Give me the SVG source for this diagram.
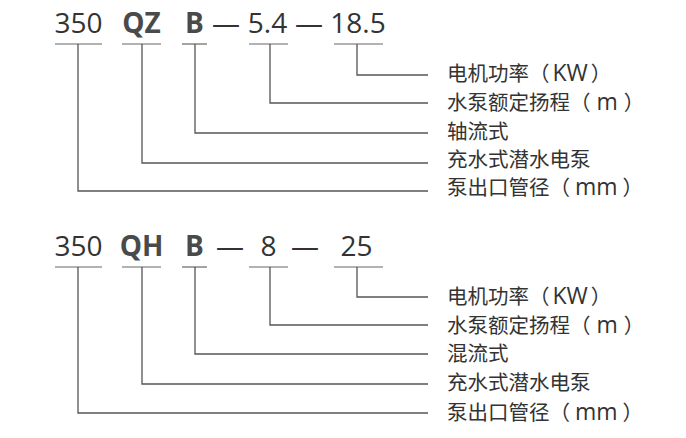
<svg xmlns="http://www.w3.org/2000/svg" width="686" height="438" viewBox="0 0 686 438">
<style>
.code{font-family:"Open Sans","Liberation Sans",sans-serif;font-size:28px;fill:#333;text-anchor:middle}
.bold{font-weight:bold;fill:#4a4a4a}
.lbl{font-family:"Noto Sans CJK SC",sans-serif;font-size:20.5px;fill:#333}
.lat{font-family:"Open Sans","Liberation Sans",sans-serif;font-size:23px}
.ul{stroke:#666;stroke-width:1.2;fill:none}
.cn{stroke:#555;stroke-width:1.3;fill:none}
</style>
<rect width="686" height="438" fill="#fff"/>
<g id="model1">
  <g id="m1-size"><text class="code" x="78.5" y="33">350</text><line class="ul" x1="55" y1="44" x2="102" y2="44"/></g>
  <g id="m1-type"><text class="code bold" x="141.5" y="33">QZ</text><line class="ul" x1="122" y1="44" x2="161" y2="44"/></g>
  <g id="m1-flow"><text class="code bold" x="194.5" y="33">B</text><line class="ul" x1="182" y1="44" x2="207" y2="44"/></g>
  <text class="code" x="226" y="33">—</text>
  <g id="m1-head"><text class="code" x="267.5" y="33">5.4</text><line class="ul" x1="249" y1="44" x2="288" y2="44"/></g>
  <text class="code" x="309" y="33">—</text>
  <g id="m1-power"><text class="code" x="358" y="33">18.5</text><line class="ul" x1="334" y1="44" x2="383" y2="44"/></g>
  <g id="m1-l1"><text class="lbl" x="447" y="81">电机功率（<tspan class="lat" dx="3">KW</tspan><tspan dx="3">）</tspan></text></g>
  <g id="m1-l2"><text class="lbl" x="447" y="110">水泵额定扬程（<tspan class="lat" dx="6">m</tspan><tspan dx="6">）</tspan></text></g>
  <g id="m1-l3"><text class="lbl" x="447" y="138.5">轴流式</text></g>
  <g id="m1-l4"><text class="lbl" x="447" y="166.5">充水式潜水电泵</text></g>
  <g id="m1-l5"><text class="lbl" x="447" y="195">泵出口管径（<tspan class="lat" dx="5">mm</tspan><tspan dx="5">）</tspan></text></g>
</g>
<g id="model2">
  <g id="m2-size"><text class="code" x="78.5" y="256">350</text><line class="ul" x1="55" y1="267" x2="102" y2="267"/></g>
  <g id="m2-type"><text class="code bold" x="141.5" y="256">QH</text><line class="ul" x1="122" y1="267" x2="161" y2="267"/></g>
  <g id="m2-flow"><text class="code bold" x="194.5" y="256">B</text><line class="ul" x1="182" y1="267" x2="207" y2="267"/></g>
  <text class="code" x="230" y="256">—</text>
  <g id="m2-head"><text class="code" x="268.5" y="256">8</text><line class="ul" x1="249" y1="267" x2="288" y2="267"/></g>
  <text class="code" x="305" y="256">—</text>
  <g id="m2-power"><text class="code" x="356.5" y="256">25</text><line class="ul" x1="334" y1="267" x2="383" y2="267"/></g>
  <g id="m2-l1"><text class="lbl" x="447" y="304">电机功率（<tspan class="lat" dx="3">KW</tspan><tspan dx="3">）</tspan></text></g>
  <g id="m2-l2"><text class="lbl" x="447" y="333">水泵额定扬程（<tspan class="lat" dx="6">m</tspan><tspan dx="6">）</tspan></text></g>
  <g id="m2-l3"><text class="lbl" x="447" y="361">混流式</text></g>
  <g id="m2-l4"><text class="lbl" x="447" y="390">充水式潜水电泵</text></g>
  <g id="m2-l5"><text class="lbl" x="447" y="419.5">泵出口管径（<tspan class="lat" dx="5">mm</tspan><tspan dx="5">）</tspan></text></g>
</g>
<g id="connectors">
  <path class="cn" d="M357 44V75H428"/>
  <path class="cn" d="M270 44V103H428"/>
  <path class="cn" d="M195 44V133H428"/>
  <path class="cn" d="M142 44V163H428"/>
  <path class="cn" d="M78 44V191H428"/>
  <path class="cn" d="M357 267V297H428"/>
  <path class="cn" d="M270 267V325H428"/>
  <path class="cn" d="M195 267V354H428"/>
  <path class="cn" d="M142 267V384H428"/>
  <path class="cn" d="M78 267V413H428"/>
</g>
</svg>
